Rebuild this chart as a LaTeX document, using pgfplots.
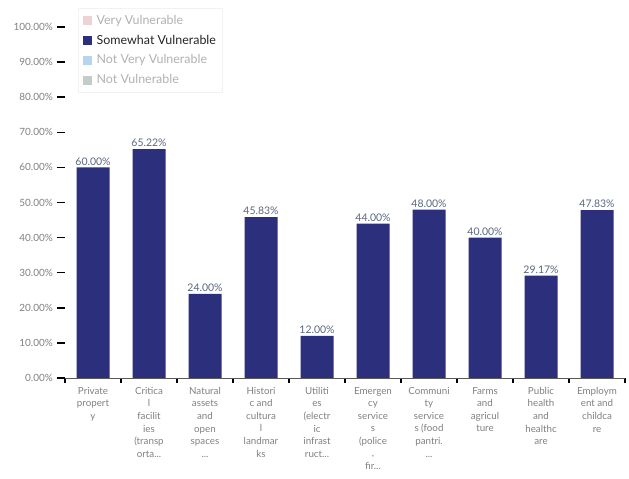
\documentclass[border=0pt]{standalone}
\usepackage{pgfplots}
\pgfplotsset{compat=1.18}
\usepackage{fontspec}
\setmainfont{Lato}
\definecolor{barnavy}{HTML}{2B2F7C}
\definecolor{vvpink}{HTML}{EDD3D6}
\definecolor{nvblue}{HTML}{B5D5EE}
\definecolor{nvgray}{HTML}{C3CBCB}
\definecolor{ticktext}{HTML}{808080}
\definecolor{valtext}{HTML}{5A6680}
\newcommand{\ddd}{{.}{.}{.}}
\begin{document}
\begin{tikzpicture}
\useasboundingbox (0,0) rectangle (629bp,479bp);
\begin{axis}[
  at={(65bp,101bp)}, anchor=south west,
  scale only axis, width=560bp, height=351bp,
  xmin=-0.5, xmax=9.5, ymin=0, ymax=100,
  axis x line*=bottom, axis y line*=left,
  y axis line style={draw=none},
  x axis line style={draw=black!65, line width=0.8bp},
  tick align=outside,
  xtick={0,1,2,3,4,5,6,7,8,9},
  major x tick style={draw=none},
  minor xtick={-0.5,0.5,1.5,2.5,3.5,4.5,5.5,6.5,7.5,8.5,9.5},
  minor x tick style={draw=black, line width=1.3bp},
  minor tick length=5bp,
  xticklabels={
    {Private\\propert\\y},
    {Critica\\l\\facilit\\ies\\(transp\\orta\ddd},
    {Natural\\assets\\and\\open\\spaces\\\ddd},
    {Histori\\c and\\cultura\\l\\landmar\\ks},
    {Utiliti\\es\\(electr\\ic\\infrast\\ruct\ddd},
    {Emergen\\cy\\service\\s\\(police\\,\\fir\ddd},
    {Communi\\ty\\service\\s (food\\pantri.\\\ddd},
    {Farms\\and\\agricul\\ture},
    {Public\\health\\and\\healthc\\are},
    {Employm\\ent and\\childca\\re}},
  x tick label style={align=center, font=\fontsize{9.8}{12.6}\selectfont, text=ticktext, anchor=north, inner sep=1bp},
  ytick={0,10,20,30,40,50,60,70,80,90,100},
  /pgf/number format/assume math mode=true,
  yticklabel={\pgfmathprintnumber[fixed,zerofill,precision=2]{\tick}\%},
  y tick label style={font=\fontsize{10}{12}\selectfont, text=ticktext, inner sep=4bp},
  major y tick style={draw=black, line width=1.5bp},
  major tick length=8bp,
  ybar, bar width=33bp,
  nodes near coords={\pgfmathprintnumber[fixed,zerofill,precision=2]{\pgfplotspointmeta}\%},
  every node near coord/.append style={font=\fontsize{10.5}{12}\selectfont, text=valtext, inner sep=2bp},
  legend style={at={(0.024,1.055)}, anchor=north west, draw=black!5, fill=white,
    font=\fontsize{12.5}{14}\selectfont, row sep=5.3bp, inner xsep=4bp, inner ysep=5bp},
  legend cell align=left,
  legend image code/.code={\fill[#1] (0bp,-4.5bp) rectangle (9bp,4.5bp);},
]
\addlegendimage{fill=vvpink, draw=none}
\addlegendentry{\hspace{3bp}\textcolor{black!30}{Very Vulnerable}}
\addlegendimage{fill=barnavy, draw=none}
\addlegendentry{\hspace{3bp}\textcolor{black!85}{Somewhat Vulnerable}}
\addlegendimage{fill=nvblue, draw=none}
\addlegendentry{\hspace{3bp}\textcolor{black!30}{Not Very Vulnerable}}
\addlegendimage{fill=nvgray, draw=none}
\addlegendentry{\hspace{3bp}\textcolor{black!30}{Not Vulnerable}}
\addplot[fill=barnavy, draw=none, forget plot, bar shift=0pt] coordinates {
  (0,60.00) (1,65.22) (2,24.00) (3,45.83) (4,12.00)
  (5,44.00) (6,48.00) (7,40.00) (8,29.17) (9,47.83)
};
\end{axis}
\end{tikzpicture}
\end{document}
